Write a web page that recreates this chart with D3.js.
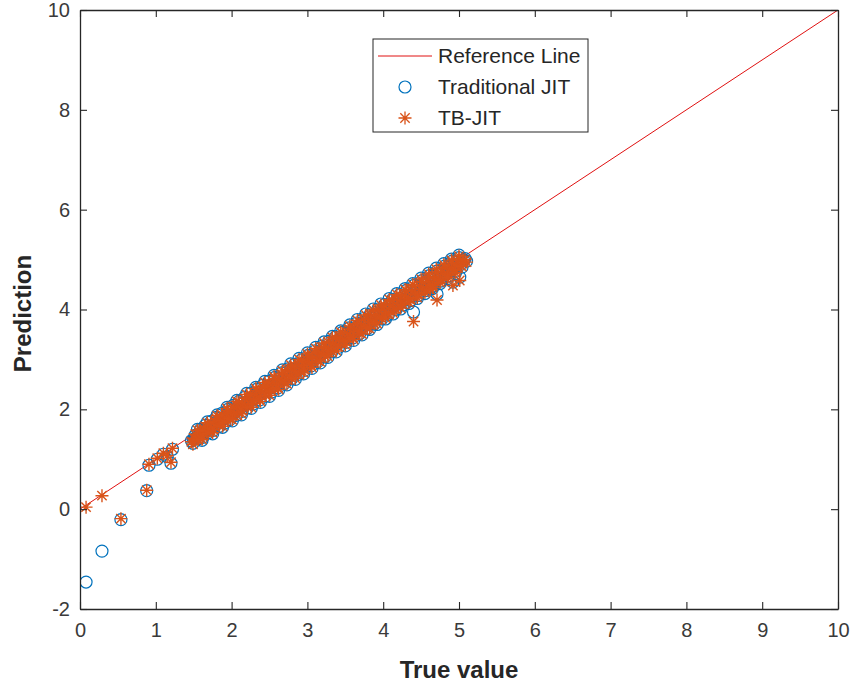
<!DOCTYPE html>
<html>
<head>
<meta charset="utf-8">
<script src="https://cdn.jsdelivr.net/npm/d3@7"></script>
<style>
  body { margin: 0; background: #fff; }
  svg text { font-family: "Liberation Sans", Arial, Helvetica, sans-serif; }
</style>
</head>
<body>
<svg id="chart" width="854" height="687"></svg>
<script>
// Measured (true) values and the two model predictions for each sample
const trueValue = [
  // low-range samples
  0.08, 0.29, 0.54, 0.88, 0.91, 1.02, 1.10, 1.20, 1.22, 1.15,
  // main range
  1.47, 1.50, 1.53, 1.57, 1.60, 1.63, 1.67, 1.71, 1.74, 1.78,
  1.82, 1.85, 1.89, 1.93, 1.96, 2.00, 2.04, 2.08, 2.12, 2.15,
  2.19, 2.23, 2.27, 2.31, 2.35, 2.39, 2.43, 2.47, 2.51, 2.55,
  2.59, 2.63, 2.68, 2.72, 2.76, 2.81, 2.85, 2.90, 2.94, 2.98,
  3.03, 3.07, 3.12, 3.16, 3.21, 3.25, 3.30, 3.34, 3.39, 3.43,
  3.48, 3.53, 3.57, 3.62, 3.67, 3.71, 3.76, 3.81, 3.85, 3.90,
  3.95, 4.00, 4.04, 4.09, 4.14, 4.19, 4.24, 4.28, 4.33, 4.38,
  4.43, 4.48, 4.53, 4.58, 4.63, 4.68, 4.73, 4.78, 4.83, 4.88,
  4.93, 4.98, 5.02, 5.06, 5.10,
  1.49, 1.52, 1.56, 1.59, 1.62, 1.65, 1.69, 1.73, 1.76, 1.80,
  1.84, 1.87, 1.91, 1.95, 1.98, 2.02, 2.06, 2.10, 2.14, 2.17,
  2.21, 2.25, 2.29, 2.33, 2.37, 2.41, 2.45, 2.49, 2.53, 2.57,
  2.61, 2.66, 2.70, 2.74, 2.79, 2.83, 2.88, 2.92, 2.96, 3.01,
  3.05, 3.10, 3.14, 3.19, 3.23, 3.28, 3.32, 3.37, 3.41, 3.46,
  3.51, 3.55, 3.60, 3.65, 3.69, 3.74, 3.79, 3.83, 3.88, 3.93,
  3.98, 4.02, 4.07, 4.12, 4.17, 4.22, 4.26, 4.31, 4.36, 4.41,
  4.46, 4.51, 4.56, 4.61, 4.66, 4.71, 4.76, 4.81, 4.86, 4.91,
  4.96, 5.00, 5.04, 5.08,
  1.55, 1.61, 1.68, 1.75, 1.81, 1.88, 1.94, 2.01, 2.07, 2.13,
  2.20, 2.26, 2.32, 2.38, 2.44, 2.50, 2.56, 2.62, 2.67, 2.73,
  2.78, 2.84, 2.89, 2.95, 3.00, 3.06, 3.11, 3.17, 3.22, 3.27,
  3.33, 3.38, 3.44, 3.50, 3.56, 3.61, 3.66, 3.72, 3.77, 3.82,
  3.87, 3.92, 3.97, 4.03, 4.08, 4.13, 4.18, 4.23, 4.29, 4.34,
  4.39, 4.45, 4.50, 4.55, 4.60, 4.65, 4.70, 4.75, 4.80, 4.85,
  4.90, 4.95, 5.00,
  // under-predicted samples near the top of the range
  4.40, 4.71, 4.92, 5.01, 4.62
];

const traditionalJIT = [
  -1.46, -0.84, -0.21, 0.37, 0.88, 1.00, 1.10, 0.92, 1.20, 1.05,
  1.37, 1.40, 1.43, 1.49, 1.52, 1.58, 1.57, 1.64, 1.66, 1.73,
  1.72, 1.82, 1.81, 1.89, 1.87, 1.98, 1.95, 2.04, 2.03, 2.13,
  2.11, 2.19, 2.18, 2.29, 2.27, 2.35, 2.34, 2.46, 2.43, 2.51,
  2.50, 2.62, 2.60, 2.68, 2.67, 2.80, 2.77, 2.86, 2.85, 2.97,
  2.95, 3.03, 3.03, 3.15, 3.13, 3.22, 3.21, 3.34, 3.31, 3.40,
  3.39, 3.53, 3.49, 3.59, 3.58, 3.72, 3.68, 3.78, 3.77, 3.91,
  3.87, 3.98, 3.96, 4.10, 4.06, 4.16, 4.15, 4.29, 4.24, 4.38,
  4.33, 4.48, 4.42, 4.58, 4.52, 4.67, 4.62, 4.77, 4.72, 4.86,
  4.82, 4.95, 4.90, 4.99, 4.97,
  1.32, 1.48, 1.41, 1.60, 1.44, 1.68, 1.53, 1.76, 1.58, 1.84,
  1.66, 1.92, 1.73, 2.00, 1.80, 2.08, 1.88, 2.16, 1.96, 2.24,
  2.03, 2.32, 2.11, 2.40, 2.19, 2.48, 2.27, 2.56, 2.35, 2.64,
  2.43, 2.73, 2.52, 2.81, 2.61, 2.90, 2.70, 2.99, 2.78, 3.08,
  2.87, 3.17, 2.96, 3.26, 3.05, 3.36, 3.15, 3.45, 3.24, 3.54,
  3.34, 3.63, 3.43, 3.73, 3.52, 3.82, 3.62, 3.91, 3.71, 4.01,
  3.81, 4.10, 3.90, 4.20, 4.00, 4.30, 4.09, 4.39, 4.18, 4.49,
  4.28, 4.58, 4.38, 4.68, 4.47, 4.77, 4.57, 4.87, 4.67, 4.97,
  4.77, 5.04, 4.85, 5.02,
  1.60, 1.38, 1.75, 1.51, 1.89, 1.64, 2.04, 1.77, 2.18, 1.89,
  2.32, 2.02, 2.44, 2.14, 2.56, 2.26, 2.68, 2.38, 2.79, 2.49,
  2.91, 2.60, 3.02, 2.71, 3.13, 2.82, 3.24, 2.93, 3.35, 3.04,
  3.46, 3.15, 3.57, 3.27, 3.69, 3.38, 3.80, 3.49, 3.91, 3.60,
  4.01, 3.70, 4.11, 3.81, 4.22, 3.91, 4.32, 4.01, 4.42, 4.12,
  4.52, 4.22, 4.63, 4.32, 4.73, 4.42, 4.83, 4.52, 4.92, 4.62,
  5.01, 4.72, 5.09,
  3.95, 4.31, 4.55, 4.65, 4.42
];

const tbJIT = [
  0.04, 0.27, -0.19, 0.38, 0.90, 1.02, 1.12, 0.94, 1.22, 1.07,
  1.35, 1.42, 1.40, 1.51, 1.49, 1.60, 1.55, 1.66, 1.63, 1.75,
  1.70, 1.80, 1.79, 1.91, 1.85, 1.96, 1.93, 2.06, 2.01, 2.11,
  2.09, 2.21, 2.16, 2.27, 2.25, 2.37, 2.32, 2.44, 2.41, 2.53,
  2.48, 2.60, 2.58, 2.70, 2.65, 2.78, 2.75, 2.88, 2.83, 2.95,
  2.93, 3.05, 3.01, 3.13, 3.11, 3.24, 3.19, 3.32, 3.29, 3.42,
  3.37, 3.51, 3.47, 3.61, 3.56, 3.70, 3.66, 3.80, 3.75, 3.89,
  3.85, 4.00, 3.94, 4.08, 4.04, 4.18, 4.13, 4.27, 4.22, 4.36,
  4.31, 4.46, 4.40, 4.56, 4.50, 4.65, 4.60, 4.75, 4.70, 4.84,
  4.80, 4.93, 4.88, 4.97, 4.95,
  1.30, 1.50, 1.39, 1.58, 1.45, 1.66, 1.52, 1.74, 1.59, 1.82,
  1.67, 1.90, 1.74, 1.98, 1.81, 2.06, 1.89, 2.14, 1.97, 2.22,
  2.04, 2.30, 2.12, 2.38, 2.20, 2.46, 2.28, 2.54, 2.36, 2.62,
  2.44, 2.71, 2.53, 2.79, 2.62, 2.88, 2.71, 2.97, 2.79, 3.06,
  2.88, 3.15, 2.97, 3.24, 3.06, 3.34, 3.16, 3.43, 3.25, 3.52,
  3.35, 3.61, 3.44, 3.71, 3.53, 3.80, 3.63, 3.89, 3.72, 3.99,
  3.82, 4.08, 3.91, 4.18, 4.01, 4.28, 4.10, 4.37, 4.19, 4.47,
  4.29, 4.56, 4.39, 4.66, 4.48, 4.75, 4.58, 4.85, 4.68, 4.95,
  4.78, 5.02, 4.86, 5.00,
  1.58, 1.40, 1.73, 1.53, 1.87, 1.66, 2.02, 1.79, 2.16, 1.91,
  2.30, 2.04, 2.42, 2.16, 2.54, 2.28, 2.66, 2.40, 2.77, 2.51,
  2.89, 2.62, 3.00, 2.73, 3.11, 2.84, 3.22, 2.95, 3.33, 3.06,
  3.44, 3.17, 3.55, 3.29, 3.67, 3.40, 3.78, 3.51, 3.89, 3.62,
  3.99, 3.72, 4.09, 3.83, 4.20, 3.93, 4.30, 4.03, 4.40, 4.14,
  4.50, 4.24, 4.61, 4.34, 4.71, 4.44, 4.81, 4.54, 4.90, 4.64,
  4.99, 4.74, 5.07,
  3.76, 4.19, 4.48, 4.58, 4.40
];

// Reference (y = x) line end points
const referenceLine = [[0, 0], [10, 10]];

const xTicks = [0, 1, 2, 3, 4, 5, 6, 7, 8, 9, 10];
const yTicks = [-2, 0, 2, 4, 6, 8, 10];

const legendItems = ["Reference Line", "Traditional JIT", "TB-JIT"];

// ---------------------------------------------------------------
const svg = d3.select("#chart");
const boxL = 80, boxR = 838, boxT = 10, boxB = 609;
const axisColor = "#262626";
const blue = "#0072BD";
const orange = "#D95319";
const red = "#E01010";

const x = d3.scaleLinear().domain([0, 10]).range([boxL, boxR]);
const y = d3.scaleLinear().domain([-2, 10]).range([boxB, boxT]);

// clip marks to the axes box
svg.append("defs").append("clipPath").attr("id", "box")
  .append("rect").attr("x", boxL).attr("y", boxT)
  .attr("width", boxR - boxL).attr("height", boxB - boxT);

const marks = svg.append("g").attr("clip-path", "url(#box)");

// y = x reference line
marks.append("path")
  .datum(referenceLine)
  .attr("d", d3.line().x(d => x(d[0])).y(d => y(d[1])))
  .attr("fill", "none")
  .attr("stroke", red)
  .attr("stroke-width", 1);

const idx = d3.range(trueValue.length);

// Traditional JIT: open circles
marks.append("g").selectAll("circle")
  .data(idx).join("circle")
  .attr("cx", i => x(trueValue[i]))
  .attr("cy", i => y(traditionalJIT[i]))
  .attr("r", 6)
  .attr("fill", "none")
  .attr("stroke", blue)
  .attr("stroke-width", 1.2);

// asterisk marker: plus and cross superimposed
function asterisk(s) {
  const d = s * 0.72;
  return `M${-s},0L${s},0M0,${-s}L0,${s}M${-d},${-d}L${d},${d}M${-d},${d}L${d},${-d}`;
}

// TB-JIT: asterisks
marks.append("g").selectAll("path")
  .data(idx).join("path")
  .attr("transform", i => `translate(${x(trueValue[i])},${y(tbJIT[i])})`)
  .attr("d", asterisk(6.5))
  .attr("fill", "none")
  .attr("stroke", orange)
  .attr("stroke-width", 1.4);

// axes (ticks pointing inward, box on all four sides)
const tickLen = 7;
const fontSize = 20;
const plainFormat = d => String(d);

const xAxis = svg.append("g").attr("transform", `translate(0,${boxB})`)
  .call(d3.axisBottom(x).tickValues(xTicks).tickFormat(plainFormat)
    .tickSizeInner(-tickLen).tickSizeOuter(0).tickPadding(14));
const xTop = svg.append("g").attr("transform", `translate(0,${boxT})`)
  .call(d3.axisTop(x).tickValues(xTicks).tickFormat("")
    .tickSizeInner(-tickLen).tickSizeOuter(0));
const yAxis = svg.append("g").attr("transform", `translate(${boxL},0)`)
  .call(d3.axisLeft(y).tickValues(yTicks).tickFormat(plainFormat)
    .tickSizeInner(-tickLen).tickSizeOuter(0).tickPadding(10));
const yRight = svg.append("g").attr("transform", `translate(${boxR},0)`)
  .call(d3.axisRight(y).tickValues(yTicks).tickFormat("")
    .tickSizeInner(-tickLen).tickSizeOuter(0));

[xAxis, xTop, yAxis, yRight].forEach(g => {
  g.select(".domain").attr("stroke", axisColor).attr("stroke-width", 1.3);
  g.selectAll(".tick line").attr("stroke", axisColor).attr("stroke-width", 1.1);
  g.selectAll(".tick text")
    .attr("fill", "#3a3a3a")
    .style("font-size", fontSize + "px")
    .style("font-family", "'Liberation Sans', Arial, sans-serif");
});

// axis titles
svg.append("text")
  .attr("x", (boxL + boxR) / 2)
  .attr("y", 678)
  .attr("text-anchor", "middle")
  .attr("fill", "#262626")
  .style("font-size", "24px")
  .style("font-weight", "bold")
  .text("True value");

svg.append("text")
  .attr("transform", `translate(31,${(boxT + boxB) / 2 + 4}) rotate(-90)`)
  .attr("text-anchor", "middle")
  .attr("fill", "#262626")
  .style("font-size", "24px")
  .style("font-weight", "bold")
  .text("Prediction");

// legend
const lg = svg.append("g");
lg.append("rect")
  .attr("x", 373).attr("y", 39)
  .attr("width", 215).attr("height", 93)
  .attr("fill", "#fff")
  .attr("stroke", axisColor)
  .attr("stroke-width", 1);

const rowY = [56, 87, 118];
lg.append("line")
  .attr("x1", 378).attr("x2", 432)
  .attr("y1", rowY[0]).attr("y2", rowY[0])
  .attr("stroke", red).attr("stroke-width", 1);
lg.append("circle")
  .attr("cx", 405).attr("cy", rowY[1]).attr("r", 6)
  .attr("fill", "none").attr("stroke", blue).attr("stroke-width", 1.2);
lg.append("path")
  .attr("transform", `translate(405,${rowY[2]})`)
  .attr("d", asterisk(6.5))
  .attr("fill", "none").attr("stroke", orange).attr("stroke-width", 1.3);

lg.selectAll("text.item")
  .data(legendItems).join("text")
  .attr("class", "item")
  .attr("x", 438)
  .attr("y", (d, i) => rowY[i])
  .attr("dy", "0.35em")
  .attr("fill", "#262626")
  .style("font-size", "21px")
  .text(d => d);
</script>
</body>
</html>
